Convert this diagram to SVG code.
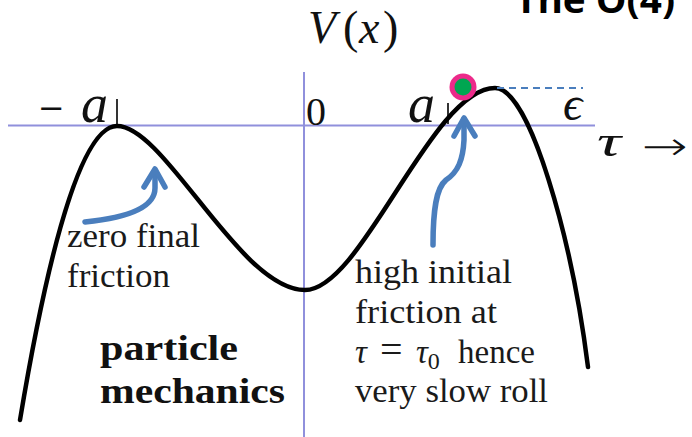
<svg xmlns="http://www.w3.org/2000/svg" width="692" height="437" viewBox="0 0 692 437">
<style>
.ax{stroke:#9090dc;stroke-width:2;fill:none}
.tick{stroke:#000;stroke-width:1.6;fill:none}
.curve{stroke:#000;stroke-width:4.5;fill:none;stroke-linecap:round;stroke-linejoin:round}
.arr{stroke:#4a7ebd;stroke-width:5.5;fill:none;stroke-linecap:round;stroke-linejoin:round}
.dash{stroke:#4a7ebd;stroke-width:2;fill:none;stroke-dasharray:7 5}
.lbl{font-family:'Liberation Serif','DejaVu Serif',serif;font-size:33px;fill:#1a1a1a}
.bold{font-family:'Liberation Serif','DejaVu Serif',serif;font-size:36px;font-weight:bold;fill:#111}
.math{font-family:'Liberation Serif','DejaVu Serif',serif;fill:#111}
.sym{font-family:'DejaVu Sans','Liberation Sans',sans-serif;font-weight:200;fill:#111}
.minus{font-family:'DejaVu Sans','Liberation Sans',sans-serif;font-size:32px;fill:#111}
.it{font-style:italic}
.title{font-family:'Open Sans','Liberation Sans',sans-serif;font-weight:bold;font-size:38px;fill:#000}
</style>
<rect width="692" height="437" fill="#fff"/>
<text class="title" x="515" y="13" textLength="160" lengthAdjust="spacingAndGlyphs">The O(4)</text>
<g id="axes">
<line class="ax" x1="8" y1="125.5" x2="595" y2="125.5"/>
<line class="ax" x1="304" y1="72" x2="304" y2="437"/>
</g>
<g id="ticks">
<line class="tick" x1="117" y1="99" x2="117" y2="125"/>
<line class="tick" x1="448" y1="103" x2="448" y2="124"/>
</g>
<g id="labels-math">
<text class="math" x="308" y="43" font-size="46"><tspan class="it">V</tspan><tspan x="343">(</tspan><tspan class="it" x="359">x</tspan><tspan x="383">)</tspan></text>
<text class="minus" x="38" y="119">−</text>
<text class="math it" x="81" y="122" font-size="54">a</text>
<text class="math" x="306" y="125" font-size="40">0</text>
<text class="math it" x="408" y="122" font-size="54">a</text>
<text class="math it" x="563" y="120" font-size="48">ϵ</text>
<text class="math it" x="597" y="156" font-size="44" textLength="24" lengthAdjust="spacingAndGlyphs">τ</text>
<text class="sym" x="642" y="160" font-size="40" textLength="46" lengthAdjust="spacingAndGlyphs">→</text>
</g>
<g id="potential">
<path class="curve" d="M20,420 C40,300 75,126 117,126 C165,126 240,290 305,290 C362,290 432,88 495,88 C530,88 572,240 588,367"/>
<line class="dash" x1="497" y1="88" x2="583" y2="88"/>
</g>
<g id="particle">
<circle cx="463" cy="87" r="13.5" fill="#ec2a8a"/>
<circle cx="463" cy="87" r="8.5" fill="#00a651"/>
</g>
<g id="connectors">
<path class="arr" d="M85,222 C125,218 155,208 155,188 L155,171"/>
<polyline class="arr" points="144,187 155,169 165,187"/>
<path class="arr" d="M433,245 C433,210 436,188 446,180 C458,172 463,160 464,140 L464,119"/>
<polyline class="arr" points="454,136 464,118 475,136"/>
</g>
<g id="note-left">
<text class="lbl" x="67" y="247" textLength="133" lengthAdjust="spacingAndGlyphs">zero final</text>
<text class="lbl" x="67" y="287" textLength="103" lengthAdjust="spacingAndGlyphs">friction</text>
</g>
<g id="note-right">
<text class="lbl" x="355" y="283" textLength="157" lengthAdjust="spacingAndGlyphs">high initial</text>
<text class="lbl" x="355" y="323" textLength="142" lengthAdjust="spacingAndGlyphs">friction at</text>
<text class="lbl" y="363"><tspan class="it" x="355">τ</tspan><tspan x="380" font-size="40">=</tspan><tspan class="it" x="416">τ</tspan><tspan font-size="24" dy="6">0</tspan><tspan x="458" dy="-6">hence</tspan></text>
<text class="lbl" x="355" y="402" textLength="193" lengthAdjust="spacingAndGlyphs">very slow roll</text>
</g>
<g id="note-mech">
<text class="bold" x="100" y="360" textLength="138" lengthAdjust="spacingAndGlyphs">particle</text>
<text class="bold" x="100" y="403" textLength="185" lengthAdjust="spacingAndGlyphs">mechanics</text>
</g>
</svg>
